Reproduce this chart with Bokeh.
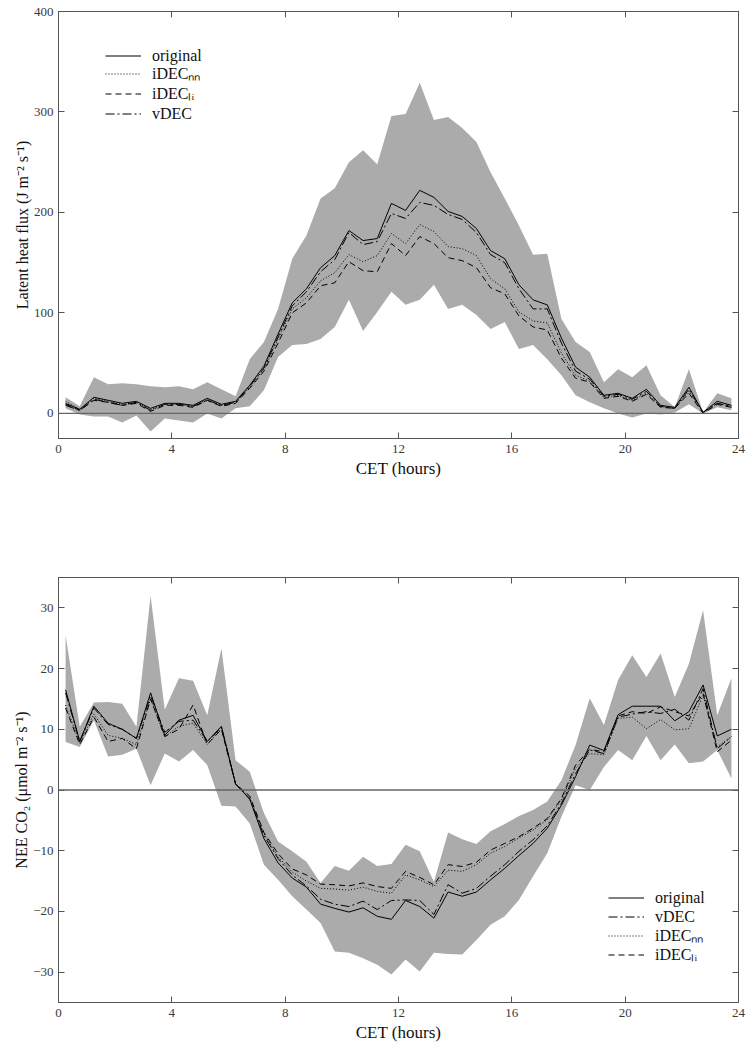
from bokeh.plotting import figure
from bokeh.models import (ColumnDataSource, Span, LinearAxis, FixedTicker, Legend,
                          LegendItem, Range1d)
from bokeh.layouts import column
from bokeh.embed import file_html
from bokeh.resources import INLINE

# ---------------- data ----------------
hours = [0.25, 0.75, 1.25, 1.75, 2.25, 2.75, 3.25, 3.75, 4.25, 4.75, 5.25, 5.75,
         6.25, 6.75, 7.25, 7.75, 8.25, 8.75, 9.25, 9.75, 10.25, 10.75, 11.25, 11.75,
         12.25, 12.75, 13.25, 13.75, 14.25, 14.75, 15.25, 15.75, 16.25, 16.75, 17.25, 17.75,
         18.25, 18.75, 19.25, 19.75, 20.25, 20.75, 21.25, 21.75, 22.25, 22.75, 23.25, 23.75]

# Latent heat flux (J m-2 s-1)
le_original = [10, 4, 16, 13, 10, 12, 5, 10, 10, 8, 15, 9, 12, 28, 47, 79, 110, 124, 145, 157,
               182, 172, 174, 209, 202, 222, 215, 201, 196, 184, 162, 154, 128, 113, 108, 75,
               46, 36, 18, 20, 15, 24, 8, 6, 26, 1, 12, 8]
le_vdec = [8, 3, 14, 11, 8, 11, 3, 9, 9, 7, 13, 8, 11, 27, 45, 76, 107, 121, 141, 153,
           180, 168, 171, 199, 194, 210, 207, 198, 193, 180, 158, 150, 124, 104, 104, 70,
           42, 34, 17, 19, 14, 22, 7, 5, 24, 1, 10, 7]
le_idec_nn = [12, 4, 15, 12, 9, 11, 4, 9, 9, 7, 14, 8, 11, 26, 44, 74, 104, 115, 132, 140,
              158, 151, 157, 179, 169, 188, 181, 166, 164, 157, 134, 124, 101, 92, 90, 60,
              38, 32, 16, 18, 13, 20, 7, 5, 22, 1, 10, 7]
le_idec_li = [9, 3, 13, 11, 8, 10, 2, 8, 8, 6, 13, 7, 10, 25, 42, 70, 100, 110, 127, 130,
              151, 142, 141, 169, 157, 176, 169, 155, 152, 145, 125, 119, 97, 86, 83, 55,
              35, 31, 15, 17, 12, 19, 6, 5, 20, 0, 9, 6]
le_upper = [16, 7, 36, 29, 30, 29, 27, 26, 27, 24, 31, 24, 17, 54, 71, 104, 154, 177, 214, 224,
            250, 262, 248, 296, 298, 329, 292, 295, 284, 270, 240, 214, 187, 158, 159, 94,
            71, 61, 31, 44, 36, 48, 18, 6, 44, 1, 20, 15]
le_lower = [5, -1, -3, -3, -9, -2, -18, -5, -7, -9, 0, -5, 5, 7, 23, 56, 68, 69, 74, 86,
            113, 82, 101, 121, 108, 113, 128, 104, 108, 98, 84, 91, 64, 68, 54, 38,
            18, 11, 5, 0, -4, 0, -1, 1, 9, 0, 6, 3]

# NEE CO2 (umol m-2 s-1)
nee_original = [16.5, 8, 13.8, 11, 10, 8.5, 16, 9, 11.5, 12.3, 8, 10.5, 1, -1.5, -8, -12,
                -14.5, -16, -18.8, -19.5, -20.1, -19.4, -20.8, -21.3, -18.2, -19.2, -21.1,
                -16.8, -17.5, -16.8, -14.8, -12.9, -10.8, -8.8, -6.3, -2.5, 2.2, 7.4, 6.5,
                12.4, 13.8, 13.8, 13.8, 11.4, 12.9, 17.3, 8.9, 10]
nee_vdec = [16, 8, 13.5, 10.8, 10, 8.5, 15.5, 9.5, 11.3, 11.5, 8, 10.3, 1, -1.5, -7.5, -11.3,
            -14, -15.8, -18, -18.8, -19.2, -18.3, -19.7, -18.2, -18.1, -18.2, -20.5,
            -15.6, -17, -16.2, -14.2, -12.3, -10.1, -8.2, -5.9, -2.2, 2.7, 6.6, 6,
            12, 12.5, 12.9, 12.6, 13.3, 11.5, 16.7, 6.8, 8.8]
nee_idec_nn = [14, 7.8, 12.5, 9, 8.5, 7.5, 15, 8.8, 10.5, 11, 7.5, 10.2, 1, -1.2, -7.2, -11,
               -13.5, -15, -16.2, -16.3, -16.5, -16, -16.7, -17, -14, -14.8, -15.9,
               -13.2, -13.4, -12.3, -10.4, -9.3, -7.9, -6.6, -4.9, -1.6, 3.6, 6, 5.8,
               11.8, 12, 10.1, 11.6, 9.9, 10.1, 15.6, 7.1, 8.8]
nee_idec_li = [13.5, 7.5, 12, 8, 8.5, 6.8, 15, 8.8, 10, 14, 7.5, 10, 1, -1, -7, -10.5,
               -13, -14, -15.5, -15.6, -15.8, -15.3, -15.9, -16.2, -13.4, -14.4, -15.6,
               -12.3, -12.6, -11.9, -9.9, -8.8, -7.7, -6.3, -4.7, -1.4, 4.1, 6.7, 6.3,
               12.2, 12.9, 12.6, 13.7, 12.9, 12.2, 15.9, 6.3, 8.2]
nee_upper = [25.5, 10.4, 14.4, 14.5, 14.2, 10.4, 32, 13.2, 18.4, 18, 12.3, 23.3, 4.9, 3, -3.8,
             -8.5, -10.1, -11.8, -15.3, -12.5, -13.3, -11, -12.5, -12.2, -9, -10.1, -15.1,
             -7, -8.1, -8.9, -6.8, -5.6, -4.3, -3.3, -1.9, 1.6, 7.4, 15.1, 10.7, 18.1, 22.2,
             18.6, 22.5, 15.3, 20.8, 29.6, 12.3, 18.4]
nee_lower = [7.9, 7.1, 11.5, 5.5, 5.8, 6.8, 0.8, 6, 4.7, 6.6, 4.1, -2.6, -2.7, -5.5, -12.3,
             -14.8, -17.5, -19.7, -21.9, -26.6, -26.8, -27.7, -28.8, -30.4, -27.9, -29.9,
             -26.8, -27, -27.1, -24.7, -22.2, -20.8, -18.1, -14.2, -10.4, -4.4, 0.8, 0, 3.8,
             6.6, 4.9, 8.9, 4.9, 7.5, 4.4, 4.7, 6.6, 1.9]

x_ticks = [0, 4, 8, 12, 16, 20, 24]
le_ticks = [0, 100, 200, 300, 400]
nee_ticks = [-30, -20, -10, 0, 10, 20, 30]

SERIF = "'Liberation Serif', 'Times New Roman', serif"
FRAME_COLOR = "#555555"
BAND_COLOR = "#ababab"

NN = "iDEC\u2099\u2099"
LI = "iDEC\u2097\u1d62"

STYLES = {
    "original": "solid",
    NN: "1 2",
    LI: "6 4",
    "vDEC": "9 3 2 3",
}


def style_axis(ax, ticks, show_labels=True):
    ax.ticker = FixedTicker(ticks=ticks)
    ax.major_tick_in = 6
    ax.major_tick_out = 0
    ax.minor_tick_in = 0
    ax.minor_tick_out = 0
    ax.axis_line_color = FRAME_COLOR
    ax.major_tick_line_color = FRAME_COLOR
    ax.major_label_text_font = SERIF
    ax.major_label_text_font_size = "13px"
    ax.major_label_text_color = "#3a3a3a"
    ax.axis_label_text_font = SERIF
    ax.axis_label_text_font_size = "17px"
    ax.axis_label_text_font_style = "normal"
    ax.axis_label_text_color = "#111111"
    if not show_labels:
        ax.major_label_text_font_size = "0px"
        ax.major_label_standoff = 0
        ax.major_label_overrides = {t: "" for t in ticks}


def make_panel(y_range, y_ticks, ylabel, series, upper, lower, legend_order, legend_x,
               legend_rows_y, border_top, border_bottom, height):
    p = figure(width=746, height=height, output_backend="svg", toolbar_location=None,
               x_range=Range1d(0, 24), y_range=Range1d(*y_range),
               min_border_left=58, min_border_right=8,
               min_border_top=border_top, min_border_bottom=border_bottom,
               x_axis_label="CET (hours)", y_axis_label=ylabel)
    p.grid.visible = False
    p.outline_line_color = FRAME_COLOR
    p.background_fill_color = "white"
    p.border_fill_color = "white"

    style_axis(p.xaxis[0], x_ticks)
    style_axis(p.yaxis[0], y_ticks)
    p.xaxis[0].major_label_standoff = 6
    p.xaxis[0].axis_label_standoff = 3
    p.yaxis[0].major_label_standoff = 5
    p.yaxis[0].axis_label_standoff = 0
    p.yaxis[0].axis_label_text_font_size = "16px"

    top_ax = LinearAxis()
    style_axis(top_ax, x_ticks, show_labels=False)
    p.add_layout(top_ax, "above")
    right_ax = LinearAxis()
    style_axis(right_ax, y_ticks, show_labels=False)
    p.add_layout(right_ax, "right")

    src = ColumnDataSource(dict(x=hours, upper=upper, lower=lower,
                                **{k: v for k, v in series.items()}))
    p.varea(x="x", y1="lower", y2="upper", source=src, fill_color=BAND_COLOR, fill_alpha=1.0)
    p.add_layout(Span(location=0, dimension="width", line_color="#666666", line_width=1.3))

    renderers = {}
    for name, col in series.items():
        r = p.line(x="x", y=name, source=src, line_color="black", line_width=1,
                   line_dash=STYLES[name])
        renderers[name] = r

    # one legend per row so that the row pitch matches the original
    for name, row_y in zip(legend_order, legend_rows_y):
        legend = Legend(items=[LegendItem(label=name, renderers=[renderers[name]])],
                        location=(legend_x, row_y), background_fill_alpha=0,
                        border_line_alpha=0, label_text_font=SERIF,
                        label_text_font_size="16px", label_text_color="#111111",
                        glyph_width=36, glyph_height=19, label_height=19, spacing=0,
                        padding=0, margin=0, label_standoff=11)
        p.add_layout(legend)
    return p


p1 = make_panel((-25, 400), le_ticks, "Latent heat flux (J m\u207b\u00b2 s\u207b\u00b9)",
                {"original": le_original, NN: le_idec_nn, LI: le_idec_li, "vDEC": le_vdec},
                le_upper, le_lower, ["original", NN, LI, "vDEC"], 47,
                [373, 354, 334, 315],
                border_top=11, border_bottom=50, height=488)

p2 = make_panel((-35, 35), nee_ticks, "NEE CO\u2082 (\u03bcmol m\u207b\u00b2 s\u207b\u00b9)",
                {"original": nee_original, "vDEC": nee_vdec, NN: nee_idec_nn, LI: nee_idec_li},
                nee_upper, nee_lower, ["original", "vDEC", NN, LI], 550,
                [95, 76, 56, 37],
                border_top=89, border_bottom=40, height=556)

layout = column(p1, p2, spacing=0)
open("out.html", "w").write(file_html(layout, INLINE))
